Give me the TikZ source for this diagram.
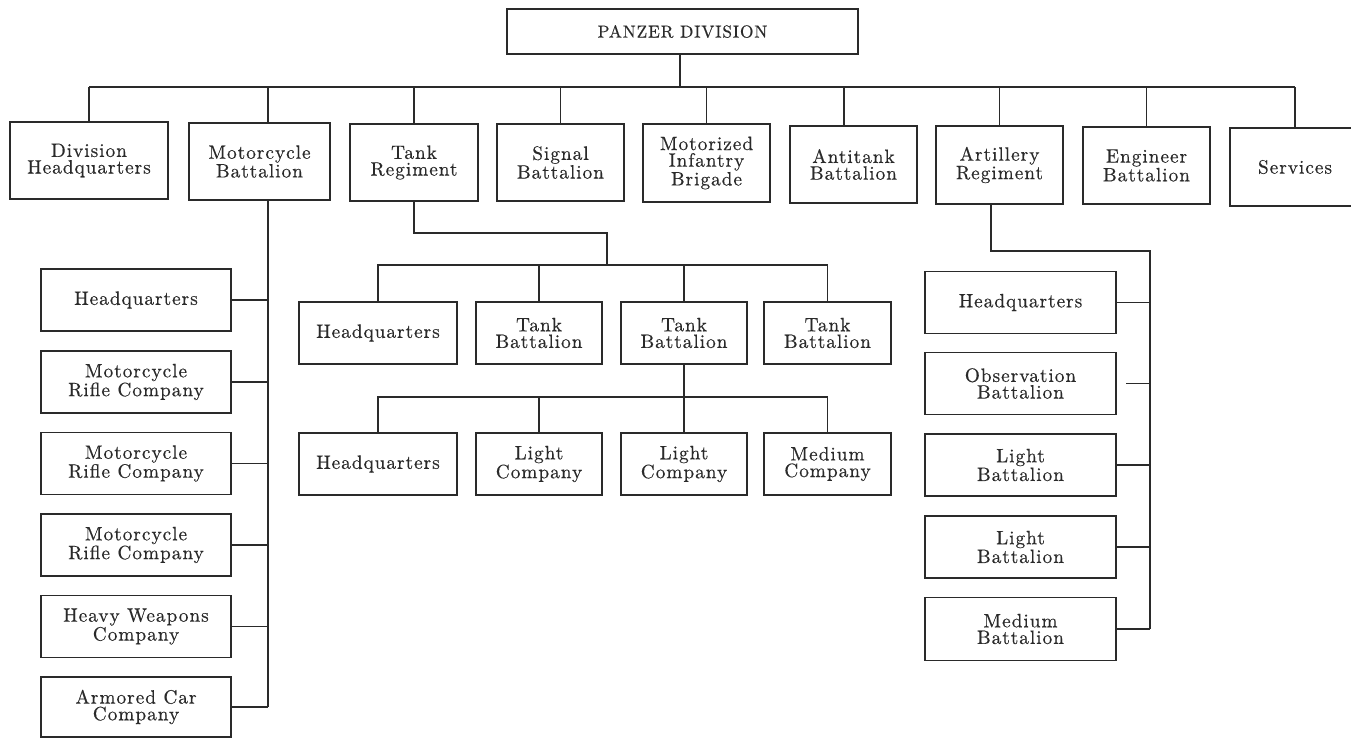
\documentclass[tikz,border=0pt]{standalone}
\usepackage{fontspec}
\usepackage{tikz}
\newfontfamily\chartfont{lmroman10-regular.otf}[LetterSpace=5,FakeBold=0.4]
\definecolor{ink}{HTML}{2A2A2A}
\tikzset{
    unit/.style={rectangle,draw=ink,line width=1.4pt,align=center,inner sep=1pt,text=ink,
        font=\chartfont\fontsize{14.5}{12.5}\selectfont},
    link/.style={draw=ink,line width=1.2pt},
    boxw/.style={minimum width=#1*0.75pt},
    boxh/.style={minimum height=#1*0.75pt}
}

\begin{document}
\begin{tikzpicture}[x=0.75pt,y=-0.75pt]
\clip (0,0) rectangle (1351,738);
\tikzset{row/.style={unit,boxw=127,boxh=77}, sub/.style={unit,boxh=62}}

% division and its units
\node[unit,boxw=351,boxh=45,font=\chartfont\fontsize{13}{14}\selectfont] (0) at (682.5,31.5) {PANZER DIVISION};
\node[row,boxw=158] (1) at (89,160.5) {Division\\Headquarters};
\node[row,boxw=141] (2) at (259.5,161.5) {Motorcycle\\Battalion};
\node[row,boxw=128] (3) at (414,162.5) {Tank\\Regiment};
\node[row] (4) at (560.5,162.5) {Signal\\Battalion};
\node[row,boxh=78] (5) at (706.5,163) {Motorized\\Infantry\\Brigade};
\node[row] (6) at (853.5,164.5) {Antitank\\Battalion};
\node[row,boxh=78] (7) at (999.5,165) {Artillery\\Regiment};
\node[row] (8) at (1146.5,165.5) {Engineer\\Battalion};
\node[row,boxw=130,boxh=78] (9) at (1295,167) {Services};

% motorcycle battalion
\node[sub,boxw=190] (21) at (136,300) {Headquarters};
\node[sub,boxw=190] (22) at (136,382) {Motorcycle\\Rifle Company};
\node[sub,boxw=190] (23) at (136,463.5) {Motorcycle\\Rifle Company};
\node[sub,boxw=190] (24) at (136,545) {Motorcycle\\Rifle Company};
\node[sub,boxw=190] (25) at (136,626.5) {Heavy Weapons\\Company};
\node[sub,boxw=190,boxh=60] (26) at (136,707) {Armored Car\\Company};

% tank regiment
\node[sub,boxw=158] (31) at (378,333) {Headquarters};
\node[sub,boxw=126] (32) at (539,333) {Tank\\Battalion};
\node[sub,boxw=126] (33) at (684,333) {Tank\\Battalion};
\node[sub,boxw=127] (34) at (827.5,333) {Tank\\Battalion};

\node[sub,boxw=158] (41) at (378,464) {Headquarters};
\node[sub,boxw=126] (42) at (539,464) {Light\\Company};
\node[sub,boxw=126] (43) at (684,464) {Light\\Company};
\node[sub,boxw=127] (44) at (827.5,464) {Medium\\Company};

% artillery regiment
\node[sub,boxw=191] (51) at (1020.5,302.5) {Headquarters};
\node[sub,boxw=191] (52) at (1020.5,383.5) {Observation\\Battalion};
\node[sub,boxw=191] (53) at (1020.5,465) {Light\\Battalion};
\node[sub,boxw=191] (54) at (1020.5,547) {Light\\Battalion};
\node[sub,boxw=191,boxh=63] (55) at (1020.5,629) {Medium\\Battalion};

\coordinate (bus) at (680,87);
\coordinate (2v) at ([xshift=6.4pt]2.south);
\coordinate (3b) at (607,233);
\coordinate (3c) at (607,265);
\coordinate (4c) at (684,397);
\coordinate (7b) at (1150,251);

\draw[link] (0.south -| bus) -- (bus);
\draw[link] (1.north |- bus) -- (9.north |- bus);
\foreach \n in {1,3,4,5,7,8,9}
    \draw[link] (\n.north) -- (\n.north |- bus);
\draw[link] ([xshift=6.4pt]2.north) -- ([xshift=6.4pt]2.north |- bus);
\draw[link] ([xshift=-7pt]6.north) -- ([xshift=-7pt]6.north |- bus);

\draw[link] (2v) -- (2v |- 26.east);
\foreach \n in {21,...,26}
    \draw[link] (\n.east) -- (\n.east -| 2v);

\draw[link] (3.south) |- (3b) -- (3c);
\draw[link] (31.north) |- (3c) -| (34.north);
\foreach \n in {32,33}
    \draw[link] (\n.north) -- (\n.north |- 3c);

\draw[link] (33.south) -- (4c);
\draw[link] (41.north) |- (4c) -| (44.north);
\foreach \n in {42,43}
    \draw[link] (\n.north) -- (\n.north |- 4c);

\draw[link] ([xshift=-6.4pt]7.south) |- (7b) -- (7b |- 55.east);
\foreach \n in {51,53,54,55}
    \draw[link] (\n.east) -- (\n.east -| 7b);
\draw[link,shorten <=7pt] (52.east) -- (52.east -| 7b);

\end{tikzpicture}
\end{document}
